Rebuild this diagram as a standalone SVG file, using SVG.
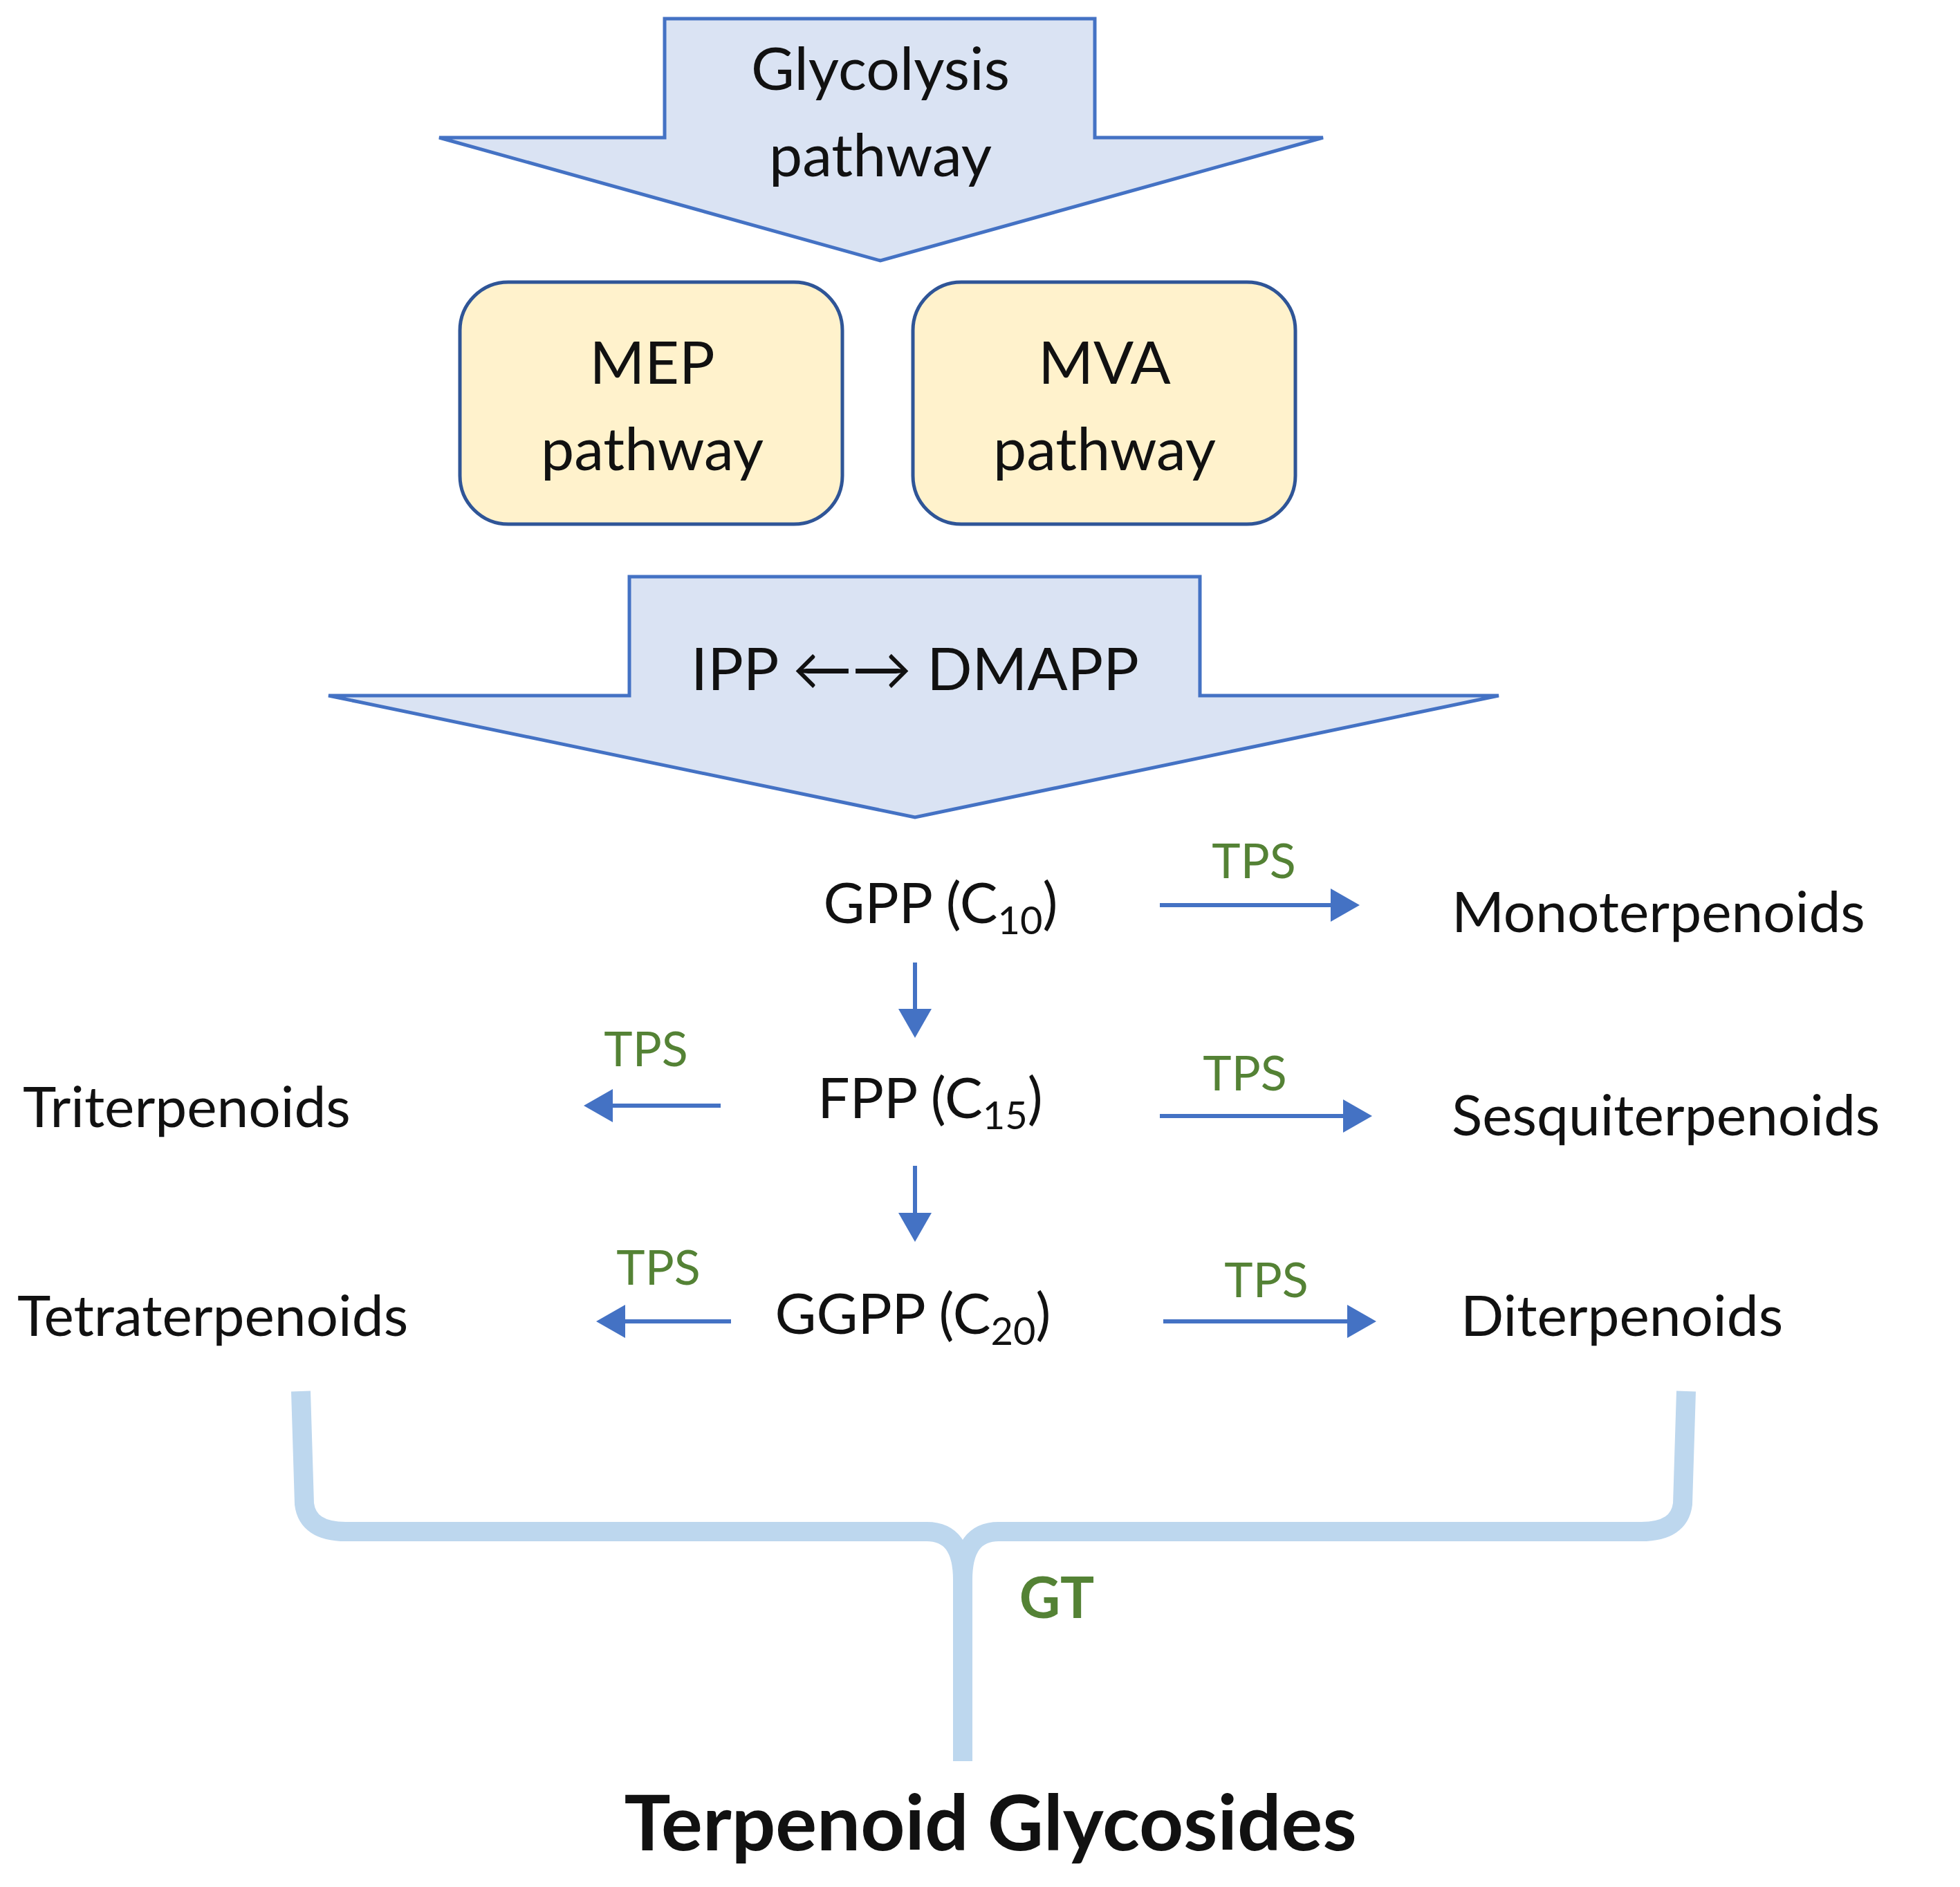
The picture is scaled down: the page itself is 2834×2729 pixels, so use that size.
<svg xmlns="http://www.w3.org/2000/svg" width="2834" height="2729" viewBox="0 0 2834 2729">
<style>
text{font-family:Lato,"Open Sans","Liberation Sans",sans-serif;fill:#111}
.big{fill:#dae3f3;stroke:#4472c4;stroke-width:5}
.box{fill:#fff2cc;stroke:#2f5597;stroke-width:5}
.t{font-size:86px;text-anchor:middle}
.n{font-size:82px}
.tps{font-size:70px;fill:#548235;text-anchor:middle}
.con{stroke:#4472c4;stroke-width:6;fill:none;marker-end:url(#ah)}
</style>
<defs><marker id="ah" markerWidth="8" markerHeight="8" refX="6" refY="4" orient="auto" markerUnits="strokeWidth"><path d="M0,0 L7,4 L0,8 z" fill="#4472c4"/></marker></defs>
<rect width="2834" height="2729" fill="#fff"/>
<g id="glycolysis"><path class="big" d="M961,27 H1583 V199 H1913 L1273,377 L635,199 H961 Z"/>
<text class="t" x="1273" y="130">Glycolysis</text><text class="t" x="1273" y="255">pathway</text></g>
<g id="mep"><rect class="box" x="665" y="408" width="553" height="350" rx="70"/>
<text class="t" x="943" y="555">MEP</text><text class="t" x="943" y="680">pathway</text></g>
<g id="mva"><rect class="box" x="1320" y="408" width="553" height="350" rx="70"/>
<text class="t" x="1597" y="555">MVA</text><text class="t" x="1597" y="680">pathway</text></g>
<g id="ipp"><path class="big" d="M910,834 H1735 V1006 H2167 L1323,1182 L475,1006 H910 Z"/>
<text class="t" x="1323" y="998">IPP ←→ DMAPP</text></g>
<g id="gpp"><text class="n" x="1360" y="1335" text-anchor="middle">GPP (C<tspan font-size="56" dy="16">10</tspan><tspan dy="-16">)</tspan></text></g>
<g id="fpp"><text class="n" x="1345" y="1617" text-anchor="middle">FPP (C<tspan font-size="56" dy="16">15</tspan><tspan dy="-16">)</tspan></text></g>
<g id="ggpp"><text class="n" x="1320" y="1929" text-anchor="middle">GGPP (C<tspan font-size="56" dy="16">20</tspan><tspan dy="-16">)</tspan></text></g>
<g id="mono"><text class="n" x="2099" y="1348">Monoterpenoids</text></g>
<g id="sesqui"><text class="n" x="2099" y="1642">Sesquiterpenoids</text></g>
<g id="di"><text class="n" x="2112" y="1932">Diterpenoids</text></g>
<g id="tri"><text class="n" x="33" y="1630">Triterpenoids</text></g>
<g id="tetra"><text class="n" x="25" y="1932">Tetraterpenoids</text></g>
<g id="product"><text x="1432" y="2676" font-size="112" font-weight="bold" text-anchor="middle">Terpenoid Glycosides</text></g>
<g id="connectors">
<path class="con" d="M1677,1309 H1960"/>
<path class="con" d="M1323,1392 V1495"/>
<path class="con" d="M1042,1599 H850"/>
<path class="con" d="M1677,1614 H1978"/>
<path class="con" d="M1323,1686 V1790"/>
<path class="con" d="M1057,1911 H868"/>
<path class="con" d="M1682,1911 H1984"/>
<text class="tps" x="1813" y="1270">TPS</text>
<text class="tps" x="934" y="1542">TPS</text>
<text class="tps" x="1800" y="1577">TPS</text>
<text class="tps" x="952" y="1858">TPS</text>
<text class="tps" x="1831" y="1876">TPS</text>
<path d="M435,2012 L440,2175 Q445,2215 500,2215 L1340,2215 Q1392,2215 1392,2285 L1392,2547 M2438,2012 L2433,2175 Q2428,2215 2373,2215 L1444,2215 Q1392,2215 1392,2285" fill="none" stroke="#bdd7ee" stroke-width="28"/>
<text x="1528" y="2340" font-size="82" font-weight="bold" fill="#548235" text-anchor="middle" style="fill:#548235">GT</text>
</g>
</svg>
